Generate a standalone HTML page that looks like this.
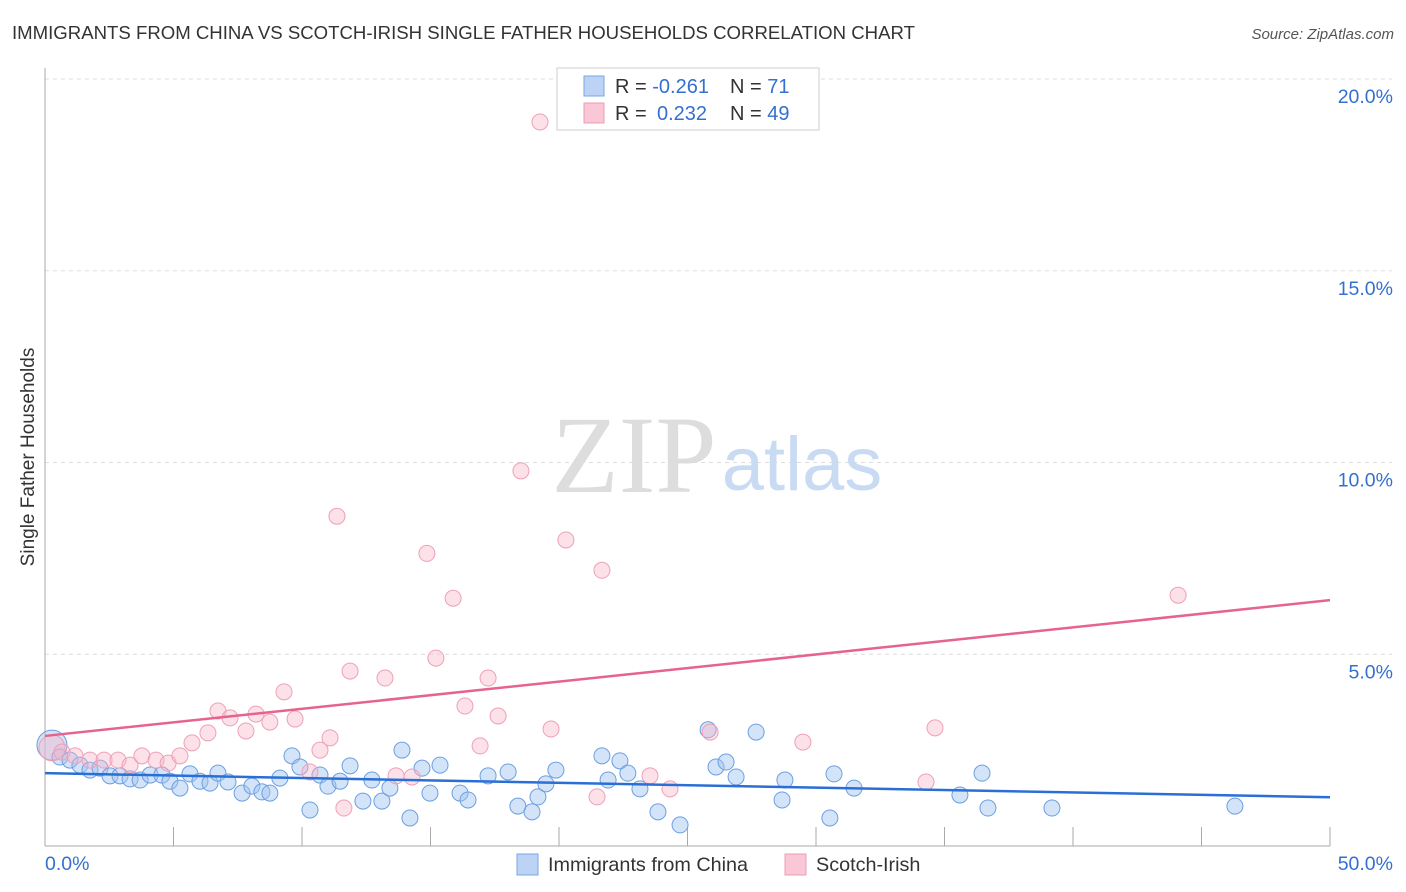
<!DOCTYPE html>
<html><head><meta charset="utf-8"><style>
body{margin:0;background:#fff;font-family:"Liberation Sans",sans-serif;}
svg{display:block}
</style></head><body>
<svg id="c" width="1406" height="892">
<text x="12" y="39" font-size="18.6" fill="#333">IMMIGRANTS FROM CHINA VS SCOTCH-IRISH SINGLE FATHER HOUSEHOLDS CORRELATION CHART</text>
<text x="1394" y="39" font-size="15" fill="#555" font-style="italic" text-anchor="end">Source: ZipAtlas.com</text>
<text transform="translate(34,457) rotate(-90)" font-size="19" fill="#333" text-anchor="middle">Single Father Households</text>
<g id="grid"></g>
<text x="634" y="492" font-size="110" fill="#ddd" font-family="Liberation Serif,serif" text-anchor="middle">ZIP</text>
<text x="802" y="490" font-size="76" fill="#c9dbf3" text-anchor="middle">atlas</text>
<g id="pts"></g>
<g id="lines"></g>
<g>
<rect x="557" y="68" width="262" height="62" fill="#fff" stroke="#ccc"/>
<rect x="584" y="76" width="20" height="20" fill="#bcd3f5" stroke="#7aa6e4"/>
<rect x="584" y="103" width="20" height="20" fill="#f9c7d5" stroke="#ec9db5"/>
<text x="615" y="93" font-size="20" fill="#333">R = <tspan fill="#3470d0">-0.261</tspan><tspan x="730">N = </tspan><tspan fill="#3470d0">71</tspan></text>
<text x="615" y="120" font-size="20" fill="#333">R = <tspan fill="#3470d0" x="657">0.232</tspan><tspan x="730">N = </tspan><tspan fill="#3470d0">49</tspan></text>
</g>
<g>
<rect x="517" y="854" width="21" height="21" fill="#bcd3f5" stroke="#7aa6e4"/>
<text x="548" y="871" font-size="19.8" fill="#333">Immigrants from China</text>
<rect x="785" y="854" width="21" height="21" fill="#f9c7d5" stroke="#ec9db5"/>
<text x="816" y="871" font-size="19.8" fill="#333">Scotch-Irish</text>
</g>
</svg>
<script>
const yTicks=[5,10,15,20];
const yTickLabels=["5.0%","10.0%","15.0%","20.0%"];
const xTickLabels=["0.0%","50.0%"];
const chinaX=[0.27,0.58,0.97,1.36,1.75,2.14,2.53,2.92,3.31,3.70,4.09,4.55,4.86,5.25,5.64,6.03,6.42,6.73,7.12,7.67,8.05,8.44,8.75,9.14,9.61,9.92,10.31,10.70,11.01,11.48,11.87,12.37,12.72,13.11,13.42,13.89,14.20,14.67,14.98,15.37,16.15,16.46,17.24,18.02,18.40,18.95,19.18,19.49,19.88,21.67,21.91,22.37,22.68,23.15,23.85,24.71,25.80,26.11,26.50,26.89,27.67,28.68,28.79,30.54,30.70,31.48,35.60,36.46,36.69,39.18,46.30];
const chinaY=[2.63,2.32,2.24,2.11,1.98,2.03,1.83,1.83,1.75,1.72,1.85,1.85,1.69,1.51,1.88,1.69,1.64,1.90,1.67,1.38,1.56,1.41,1.38,1.77,2.35,2.06,0.94,1.85,1.56,1.69,2.09,1.17,1.72,1.17,1.51,2.50,0.73,2.03,1.38,2.11,1.38,1.20,1.83,1.93,1.04,0.89,1.28,1.62,1.98,2.35,1.72,2.22,1.90,1.49,0.89,0.55,3.03,2.06,2.19,1.80,2.97,1.20,1.72,0.73,1.88,1.51,1.33,1.90,0.99,0.99,1.04];
const scotX=[0.27,0.66,1.17,1.75,2.30,2.84,3.31,3.77,4.32,4.79,5.25,5.72,6.34,6.73,7.20,7.82,8.21,8.75,9.30,9.73,10.31,10.70,11.09,11.36,11.87,11.63,13.23,13.66,14.28,14.86,15.21,15.88,16.34,16.93,17.24,17.63,18.52,19.26,19.69,20.27,21.48,21.67,23.54,24.32,25.88,29.49,34.28,34.63,44.09];
const scotY=[2.56,2.45,2.35,2.24,2.24,2.24,2.11,2.35,2.24,2.16,2.35,2.69,2.95,3.52,3.34,3.00,3.44,3.23,4.02,3.31,1.93,2.50,2.82,8.60,4.56,0.99,4.38,1.83,1.80,7.63,4.90,6.46,3.65,2.61,4.38,3.39,9.78,18.88,3.05,7.98,1.28,7.19,1.83,1.49,2.97,2.71,1.67,3.08,6.54];
const trendChina=[1.90,1.27];
const trendScot=[2.87,6.41];
const NS='http://www.w3.org/2000/svg';
const X=v=>45+v*25.7, Y=v=>846-v*38.35;
function mk(t,a,p){const e=document.createElementNS(NS,t);for(const k in a)e.setAttribute(k,a[k]);p.appendChild(e);return e;}
const g=document.getElementById('grid');
yTicks.forEach((t,i)=>{
 const l=mk('line',{x1:45,x2:1392,y1:Y(t),y2:Y(t),stroke:'#ddd','stroke-dasharray':'4,4'},g);
 
 
 const tx=mk('text',{x:1393,y:Y(t)+24,'font-size':19.5,fill:'#3470d0','text-anchor':'end'},g);
 tx.textContent=yTickLabels[i];
 
 
});
mk('line',{x1:45,x2:45,y1:68,y2:846,stroke:'#aaa'},g);
mk('line',{x1:45,x2:1330,y1:846,y2:846,stroke:'#aaa'},g);
for(let i=1;i<=10;i++){const t=mk('line',{x1:X(i*5),x2:X(i*5),y1:827,y2:846,stroke:'#aaa'},g);
 
 }
[0,50].forEach((v,i)=>{const tx=mk('text',{x:i?1393:45,y:870,'font-size':19.5,fill:'#3470d0','text-anchor':i?'end':'start'},g);
 tx.textContent=xTickLabels[i];
 
 });
const p=document.getElementById('pts');
chinaX.forEach((x,i)=>{const c=mk('circle',{cx:X(x),cy:Y(chinaY[i]),r:i==0?15:8,fill:'rgba(160,195,240,0.45)',stroke:'#6c9fe2','stroke-width':1},p);
 
 });
scotX.forEach((x,i)=>{const c=mk('circle',{cx:X(x),cy:Y(scotY[i]),r:i==0?13:8,fill:'rgba(248,180,200,0.4)',stroke:'#eea0b8','stroke-width':1},p);
 
 });
const L=document.getElementById('lines');
const a=mk('line',{x1:X(0),y1:Y(trendChina[0]),x2:X(50),y2:Y(trendChina[1]),stroke:'#2a6fd6','stroke-width':2.5},L);


const b=mk('line',{x1:X(0),y1:Y(trendScot[0]),x2:X(50),y2:Y(trendScot[1]),stroke:'#e5638e','stroke-width':2.5},L);


</script>
</body></html>
